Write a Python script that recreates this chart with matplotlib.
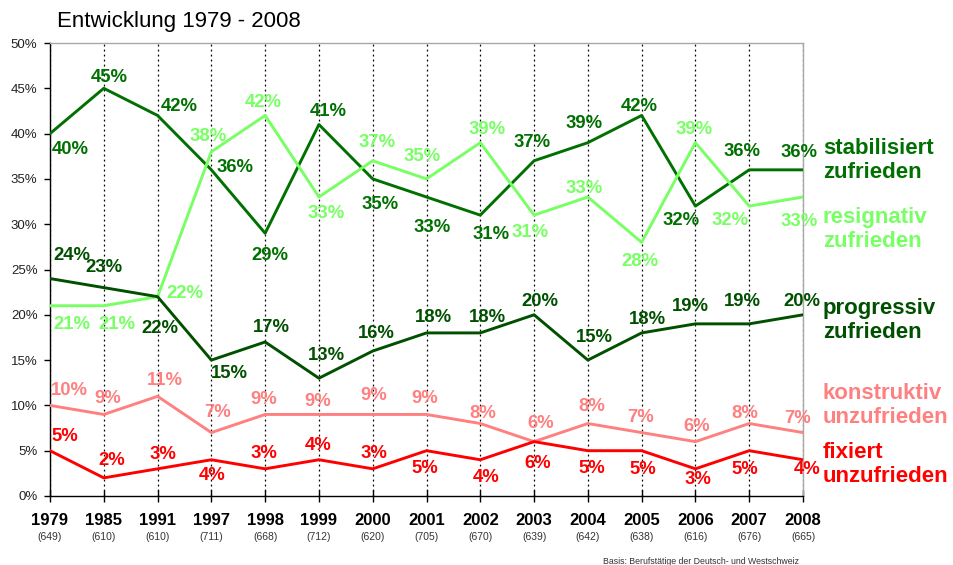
import matplotlib
matplotlib.use("Agg")
import matplotlib.pyplot as plt
import matplotlib.transforms as mtransforms

plt.rcParams['font.family'] = ['Liberation Sans', 'DejaVu Sans']

# data
years = ['1979', '1985', '1991', '1997', '1998', '1999', '2000', '2001',
         '2002', '2003', '2004', '2005', '2006', '2007', '2008']
sample_sizes = ['(649)', '(610)', '(610)', '(711)', '(668)', '(712)', '(620)', '(705)',
                '(670)', '(639)', '(642)', '(638)', '(616)', '(676)', '(665)']

stabilisiert = [40, 45, 42, 36, 29, 41, 35, 33, 31, 37, 39, 42, 32, 36, 36]
resignativ = [21, 21, 22, 38, 42, 33, 37, 35, 39, 31, 33, 28, 39, 32, 33]
progressiv = [24, 23, 22, 15, 17, 13, 16, 18, 18, 20, 15, 18, 19, 19, 20]
konstruktiv = [10, 9, 11, 7, 9, 9, 9, 9, 8, 6, 8, 7, 6, 8, 7]
fixiert = [5, 2, 3, 4, 3, 4, 3, 5, 4, 6, 5, 5, 3, 5, 4]

series_names = ['stabilisiert\nzufrieden', 'resignativ\nzufrieden', 'progressiv\nzufrieden',
                'konstruktiv\nunzufrieden', 'fixiert\nunzufrieden']

# label placement (pixel offsets from the point, y up)
off_stab = [(20, -16), (5, 11), (22, 9), (24, 2), (5, -22), (9, 13), (7, -26), (6, -30),
            (11, -19), (-2, 18), (-4, 19), (-2, 9), (-14, -14), (-7, 18), (-4, 17)]
off_resi = [(22, -19), (13, -19), (27, 3), (-3, 15), (-2, 13), (7, -16), (4, 18), (-4, 22),
            (7, 13), (-4, -17), (-4, 9), (-2, -19), (-1, 13), (-19, -14), (-4, -24)]
off_prog = [(22, 23), (0, 20), (2, -32), (18, -13), (6, 14), (8, 23), (4, 18), (7, 15),
            (7, 15), (6, 13), (7, 23), (6, 13), (-5, 17), (-7, 22), (-1, 13)]
off_kons = [(19, 15), (4, 16), (7, 16), (6, 20), (-1, 15), (-1, 13), (1, 19), (-2, 16),
            (3, 10), (7, 18), (4, 17), (-1, 15), (1, 15), (-4, 10), (-5, 14)]
off_fix = [(15, 14), (8, 17), (5, 14), (1, -16), (-1, 15), (-1, 14), (1, 15), (-2, -18),
           (6, -18), (4, -22), (4, -18), (1, -19), (3, -11), (-4, -19), (4, -10)]

styles = [
    (stabilisiert, '#007000', off_stab, 37.0),
    (resignativ, '#78ff64', off_resi, 29.4),
    (progressiv, '#005000', off_prog, 19.4),
    (konstruktiv, '#ff8080', off_kons, 10.0),
    (fixiert, '#ff0000', off_fix, 3.5),
]

fig = plt.figure(figsize=(9.54, 5.65), dpi=100)
ax = fig.add_axes([50 / 954, 1 - 496 / 565, 753 / 954, 453 / 565])

legend_shift = mtransforms.ScaledTranslation(20 / 100, 0, fig.dpi_scale_trans)

x = list(range(len(years)))
for (vals, col, offs, ly), name in zip(styles, series_names):
    ax.plot(x, vals, color=col, lw=2.1, zorder=3)
    for xi, v, (dx, dy) in zip(x, vals, offs):
        ax.annotate(f'{v}%', (xi, v), xytext=(dx, dy), textcoords='offset pixels',
                    ha='center', va='center', fontsize=13.3, color=col,
                    fontweight='bold', zorder=4, annotation_clip=False)
    # series name to the right of the plot area
    ax.text(14, ly, name, transform=ax.transData + legend_shift, color=col,
            fontsize=16, fontweight='bold', va='center', ha='left',
            linespacing=1.2, clip_on=False)

ax.set_xlim(0, 14)
ax.set_ylim(0, 50)
ax.set_yticks(range(0, 51, 5))
ax.set_yticklabels([f'{v}%' for v in range(0, 51, 5)], fontsize=9.5, color='#222222')
ax.set_xticks(x)
ax.set_xticklabels(years, fontsize=12, fontweight='bold')
ax.tick_params(axis='x', direction='inout', length=9, width=1, pad=8)
ax.tick_params(axis='y', direction='out', length=4, width=1, pad=5)

trans = mtransforms.blended_transform_factory(ax.transData, ax.transAxes)
for xi, s in zip(x, sample_sizes):
    ax.text(xi, -0.09, s, transform=trans, ha='center', va='center',
            fontsize=7.5, color='#333333', clip_on=False)

ax.grid(axis='x', color='black', linestyle=(0, (1.5, 2.5)), linewidth=0.9)
ax.grid(axis='y', visible=False)
ax.set_axisbelow(True)

ax.spines['left'].set_color('black')
ax.spines['bottom'].set_color('black')
ax.spines['top'].set_color('#a8a8a8')
ax.spines['right'].set_color('#a8a8a8')
for sp in ax.spines.values():
    sp.set_linewidth(1.0)

fig.text(57 / 954, 1 - 21 / 565, 'Entwicklung 1979 - 2008', fontsize=16,
         ha='left', va='center', color='black')
fig.text(603 / 954, 1 - 561 / 565, 'Basis: Berufstätige der Deutsch- und Westschweiz',
         fontsize=6.3, ha='left', va='center', color='#333333')

fig.savefig('out.png', dpi=100)
